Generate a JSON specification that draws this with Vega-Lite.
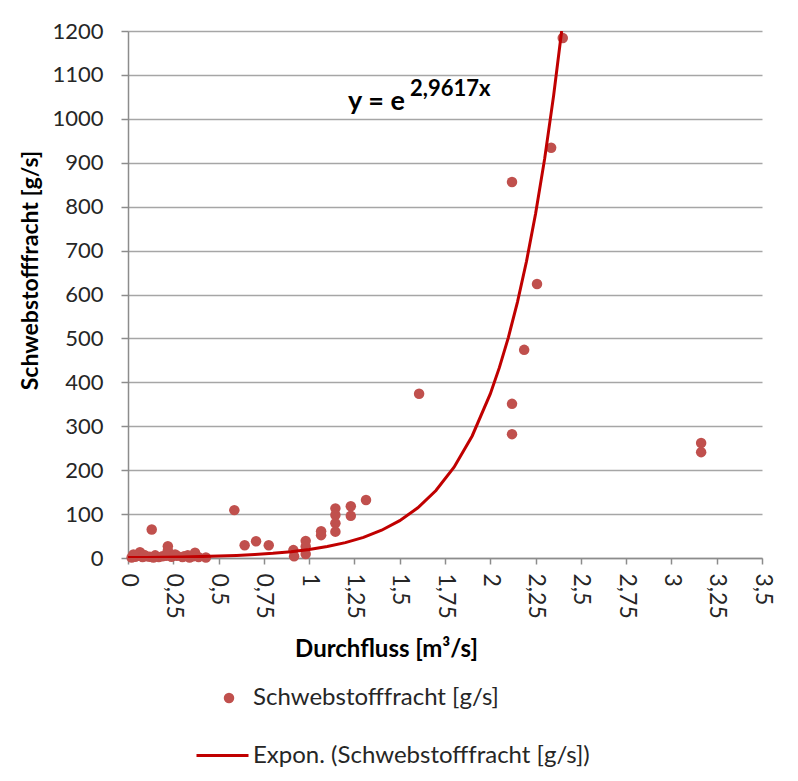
{
  "$schema": "https://vega.github.io/schema/vega-lite/v6.json",
  "width": 634,
  "height": 527,
  "autosize": {"type": "none"},
  "padding": {"left": 128, "top": 31, "right": 36, "bottom": 223},
  "background": "white",
  "config": {
    "view": {"stroke": null},
    "font": "Lato",
    "axis": {
      "labelFont": "Lato",
      "titleFont": "Lato",
      "labelColor": "#262626",
      "titleColor": "#000000",
      "domainColor": "#8c8c8c",
      "tickColor": "#8c8c8c",
      "domainWidth": 1.5,
      "tickWidth": 1.5,
      "gridColor": "#a6a6a6",
      "gridWidth": 1.5
    },
    "legend": {
      "labelFont": "Lato",
      "labelColor": "#262626",
      "labelFontSize": 24,
      "labelLimit": 500,
      "padding": 0
    }
  },
  "datasets": {
    "points": [
      {"q": 2.40, "s": 1184, "series": "Schwebstofffracht [g/s]"},
      {"q": 2.336, "s": 934, "series": "Schwebstofffracht [g/s]"},
      {"q": 2.12, "s": 856, "series": "Schwebstofffracht [g/s]"},
      {"q": 2.258, "s": 624, "series": "Schwebstofffracht [g/s]"},
      {"q": 2.187, "s": 474, "series": "Schwebstofffracht [g/s]"},
      {"q": 2.12, "s": 351, "series": "Schwebstofffracht [g/s]"},
      {"q": 2.12, "s": 282, "series": "Schwebstofffracht [g/s]"},
      {"q": 1.607, "s": 374, "series": "Schwebstofffracht [g/s]"},
      {"q": 3.164, "s": 262, "series": "Schwebstofffracht [g/s]"},
      {"q": 3.164, "s": 241, "series": "Schwebstofffracht [g/s]"},
      {"q": 1.314, "s": 132, "series": "Schwebstofffracht [g/s]"},
      {"q": 1.23, "s": 118, "series": "Schwebstofffracht [g/s]"},
      {"q": 1.23, "s": 96, "series": "Schwebstofffracht [g/s]"},
      {"q": 1.145, "s": 113, "series": "Schwebstofffracht [g/s]"},
      {"q": 1.145, "s": 98, "series": "Schwebstofffracht [g/s]"},
      {"q": 1.145, "s": 79, "series": "Schwebstofffracht [g/s]"},
      {"q": 1.145, "s": 60, "series": "Schwebstofffracht [g/s]"},
      {"q": 1.066, "s": 61, "series": "Schwebstofffracht [g/s]"},
      {"q": 1.066, "s": 52, "series": "Schwebstofffracht [g/s]"},
      {"q": 0.981, "s": 39, "series": "Schwebstofffracht [g/s]"},
      {"q": 0.981, "s": 26, "series": "Schwebstofffracht [g/s]"},
      {"q": 0.981, "s": 9, "series": "Schwebstofffracht [g/s]"},
      {"q": 0.913, "s": 18, "series": "Schwebstofffracht [g/s]"},
      {"q": 0.917, "s": 4, "series": "Schwebstofffracht [g/s]"},
      {"q": 0.777, "s": 29, "series": "Schwebstofffracht [g/s]"},
      {"q": 0.707, "s": 38, "series": "Schwebstofffracht [g/s]"},
      {"q": 0.644, "s": 29, "series": "Schwebstofffracht [g/s]"},
      {"q": 0.587, "s": 109, "series": "Schwebstofffracht [g/s]"},
      {"q": 0.131, "s": 65, "series": "Schwebstofffracht [g/s]"},
      {"q": 0.22, "s": 27, "series": "Schwebstofffracht [g/s]"},
      {"q": 0.22, "s": 17, "series": "Schwebstofffracht [g/s]"},
      {"q": 0.066, "s": 13, "series": "Schwebstofffracht [g/s]"},
      {"q": 0.37, "s": 12, "series": "Schwebstofffracht [g/s]"},
      {"q": 0.43, "s": 1, "series": "Schwebstofffracht [g/s]"},
      {"q": 0.02, "s": 1, "series": "Schwebstofffracht [g/s]"},
      {"q": 0.04, "s": 3, "series": "Schwebstofffracht [g/s]"},
      {"q": 0.06, "s": 5, "series": "Schwebstofffracht [g/s]"},
      {"q": 0.08, "s": 2, "series": "Schwebstofffracht [g/s]"},
      {"q": 0.10, "s": 4, "series": "Schwebstofffracht [g/s]"},
      {"q": 0.12, "s": 3, "series": "Schwebstofffracht [g/s]"},
      {"q": 0.15, "s": 6, "series": "Schwebstofffracht [g/s]"},
      {"q": 0.17, "s": 2, "series": "Schwebstofffracht [g/s]"},
      {"q": 0.19, "s": 4, "series": "Schwebstofffracht [g/s]"},
      {"q": 0.24, "s": 3, "series": "Schwebstofffracht [g/s]"},
      {"q": 0.27, "s": 5, "series": "Schwebstofffracht [g/s]"},
      {"q": 0.30, "s": 2, "series": "Schwebstofffracht [g/s]"},
      {"q": 0.33, "s": 6, "series": "Schwebstofffracht [g/s]"},
      {"q": 0.36, "s": 4, "series": "Schwebstofffracht [g/s]"},
      {"q": 0.39, "s": 2, "series": "Schwebstofffracht [g/s]"},
      {"q": 0.03, "s": 8, "series": "Schwebstofffracht [g/s]"},
      {"q": 0.09, "s": 7, "series": "Schwebstofffracht [g/s]"},
      {"q": 0.14, "s": 1, "series": "Schwebstofffracht [g/s]"},
      {"q": 0.21, "s": 5, "series": "Schwebstofffracht [g/s]"},
      {"q": 0.26, "s": 8, "series": "Schwebstofffracht [g/s]"},
      {"q": 0.31, "s": 4, "series": "Schwebstofffracht [g/s]"},
      {"q": 0.34, "s": 1, "series": "Schwebstofffracht [g/s]"}
    ],
    "curve": [
      {"q": 0.0, "s": 1.0, "series": "Expon. (Schwebstofffracht [g/s])"},
      {"q": 0.1, "s": 1.3, "series": "Expon. (Schwebstofffracht [g/s])"},
      {"q": 0.2, "s": 1.8, "series": "Expon. (Schwebstofffracht [g/s])"},
      {"q": 0.3, "s": 2.4, "series": "Expon. (Schwebstofffracht [g/s])"},
      {"q": 0.4, "s": 3.3, "series": "Expon. (Schwebstofffracht [g/s])"},
      {"q": 0.5, "s": 4.4, "series": "Expon. (Schwebstofffracht [g/s])"},
      {"q": 0.6, "s": 5.9, "series": "Expon. (Schwebstofffracht [g/s])"},
      {"q": 0.7, "s": 8.0, "series": "Expon. (Schwebstofffracht [g/s])"},
      {"q": 0.8, "s": 10.7, "series": "Expon. (Schwebstofffracht [g/s])"},
      {"q": 0.9, "s": 14.4, "series": "Expon. (Schwebstofffracht [g/s])"},
      {"q": 1.0, "s": 19.3, "series": "Expon. (Schwebstofffracht [g/s])"},
      {"q": 1.1, "s": 26.0, "series": "Expon. (Schwebstofffracht [g/s])"},
      {"q": 1.2, "s": 35.0, "series": "Expon. (Schwebstofffracht [g/s])"},
      {"q": 1.3, "s": 47.0, "series": "Expon. (Schwebstofffracht [g/s])"},
      {"q": 1.4, "s": 63.2, "series": "Expon. (Schwebstofffracht [g/s])"},
      {"q": 1.5, "s": 85.0, "series": "Expon. (Schwebstofffracht [g/s])"},
      {"q": 1.6, "s": 114.3, "series": "Expon. (Schwebstofffracht [g/s])"},
      {"q": 1.7, "s": 153.7, "series": "Expon. (Schwebstofffracht [g/s])"},
      {"q": 1.8, "s": 206.7, "series": "Expon. (Schwebstofffracht [g/s])"},
      {"q": 1.9, "s": 277.9, "series": "Expon. (Schwebstofffracht [g/s])"},
      {"q": 2.0, "s": 373.7, "series": "Expon. (Schwebstofffracht [g/s])"},
      {"q": 2.05, "s": 433.4, "series": "Expon. (Schwebstofffracht [g/s])"},
      {"q": 2.1, "s": 502.5, "series": "Expon. (Schwebstofffracht [g/s])"},
      {"q": 2.15, "s": 582.8, "series": "Expon. (Schwebstofffracht [g/s])"},
      {"q": 2.2, "s": 675.8, "series": "Expon. (Schwebstofffracht [g/s])"},
      {"q": 2.25, "s": 783.7, "series": "Expon. (Schwebstofffracht [g/s])"},
      {"q": 2.3, "s": 908.8, "series": "Expon. (Schwebstofffracht [g/s])"},
      {"q": 2.35, "s": 1054.0, "series": "Expon. (Schwebstofffracht [g/s])"},
      {"q": 2.394, "s": 1200.0, "series": "Expon. (Schwebstofffracht [g/s])"}
    ],
    "labels": [
      {"q": 1.215, "s": 1020, "text": "y = e", "kind": "main"},
      {"q": 1.557, "s": 1052, "text": "2,9617x", "kind": "sup"}
    ]
  },
  "layer": [
    {
      "data": {"name": "points"},
      "mark": {"type": "point", "filled": true, "opacity": 1, "size": 110, "shape": "circle"},
      "encoding": {
        "x": {
          "field": "q", "type": "quantitative",
          "scale": {"domain": [0, 3.5], "nice": false, "zero": false},
          "axis": {
            "title": "Durchfluss [m³/s]",
            "titleFontSize": 24,
            "titleFontWeight": "bold",
            "titlePadding": 19,
            "titleX": 258,
            "titleAlign": "center",
            "values": [0, 0.25, 0.5, 0.75, 1, 1.25, 1.5, 1.75, 2, 2.25, 2.5, 2.75, 3, 3.25, 3.5],
            "labelExpr": "replace(format(datum.value, '.2~f'), '.', ',')",
            "labelAngle": 90,
            "labelFontSize": 23,
            "labelPadding": 9,
            "tickSize": 6,
            "grid": false
          }
        },
        "y": {
          "field": "s", "type": "quantitative",
          "scale": {"domain": [0, 1200], "nice": false},
          "axis": {
            "title": "Schwebstofffracht  [g/s]",
            "titleFontSize": 23,
            "titleFontWeight": "bold",
            "titlePadding": 9,
            "titleY": 239,
            "values": [0, 100, 200, 300, 400, 500, 600, 700, 800, 900, 1000, 1100, 1200],
            "format": "d",
            "labelFontSize": 22,
            "labelPadding": 18,
            "tickSize": 7,
            "grid": true
          }
        },
        "fill": {
          "field": "series", "type": "nominal",
          "scale": {"range": ["#c0504d"]},
          "legend": {
            "title": null,
            "orient": "none",
            "legendX": 89,
            "legendY": 655,
            "symbolType": "circle",
            "symbolSize": 110,
            "symbolStrokeWidth": 0,
            "labelOffset": 12
          }
        }
      }
    },
    {
      "data": {"name": "curve"},
      "mark": {"type": "line", "strokeWidth": 3, "clip": true},
      "encoding": {
        "x": {"field": "q", "type": "quantitative"},
        "y": {"field": "s", "type": "quantitative"},
        "stroke": {
          "field": "series", "type": "nominal",
          "scale": {"range": ["#c00000"]},
          "legend": {
            "title": null,
            "orient": "none",
            "legendX": 67,
            "legendY": 697,
            "symbolType": "stroke",
            "symbolSize": 2704,
            "symbolStrokeWidth": 3,
            "labelOffset": 3
          }
        }
      }
    },
    {
      "data": {"name": "labels"},
      "transform": [{"filter": "datum.kind == 'main'"}],
      "mark": {"type": "text", "align": "left", "baseline": "alphabetic", "fontWeight": "bold", "fontSize": 27, "font": "Lato", "color": "#000000"},
      "encoding": {
        "x": {"field": "q", "type": "quantitative"},
        "y": {"field": "s", "type": "quantitative"},
        "text": {"field": "text"}
      }
    },
    {
      "data": {"name": "labels"},
      "transform": [{"filter": "datum.kind == 'sup'"}],
      "mark": {"type": "text", "align": "left", "baseline": "alphabetic", "fontWeight": "bold", "fontSize": 22, "font": "Lato", "color": "#000000"},
      "encoding": {
        "x": {"field": "q", "type": "quantitative"},
        "y": {"field": "s", "type": "quantitative"},
        "text": {"field": "text"}
      }
    }
  ],
  "resolve": {"legend": {"fill": "independent", "stroke": "independent"}}
}
